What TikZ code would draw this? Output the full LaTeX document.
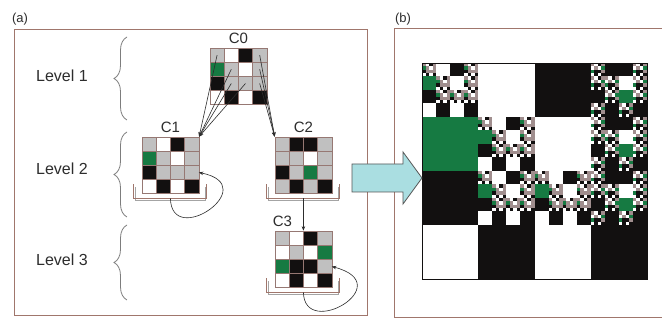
\documentclass[tikz,border=0pt]{standalone}
\usepackage{fontspec}
\setmainfont{Liberation Sans}
\usetikzlibrary{decorations.pathreplacing, arrows.meta, positioning}
\definecolor{framebrown}{RGB}{160,118,108}
\definecolor{cellline}{RGB}{150,120,115}
\definecolor{cellgrey}{RGB}{192,192,192}
\definecolor{cellink}{RGB}{18,16,16}
\definecolor{leaf}{RGB}{22,122,66}
\definecolor{finegrey}{RGB}{160,142,142}
\definecolor{arrowcyan}{RGB}{170,222,225}
\definecolor{bracegrey}{RGB}{125,125,125}
\definecolor{textgrey}{RGB}{45,45,45}

\def\cw{14.2}
\expandafter\def\csname pat0\endcsname{0/1/w/k/2,1/e/1/w/2,2/k/1/1/2,3/w/k/w/k}
\expandafter\def\csname pat1\endcsname{0/1/w/k/1,1/e/1/w/1,2/k/1/1/1,3/w/k/w/k}
\expandafter\def\csname pat2\endcsname{0/3/k/k/3,1/3/3/w/3,2/k/3/e/3,3/3/k/3/k}
\expandafter\def\csname pat3\endcsname{0/3/w/k/3,1/w/3/w/e,2/e/k/k/3,3/w/k/w/k}

\newcommand*{\Grid}[4]{%
  \expandafter\let\expandafter\patlist\csname pat#2\endcsname
  \foreach \row/\cA/\cB/\cC/\cD in \patlist {
    \foreach \col/\ch in {0/\cA,1/\cB,2/\cC,3/\cD} {
      \draw[cellbox, c\ch] (#3+\col*\cw, #4+\row*\cw) rectangle ++(\cw,\cw);
      \coordinate (#1-\row-\col) at (#3+\col*\cw+0.5*\cw, #4+\row*\cw+0.5*\cw);
    }
  }
  \node[gridbox] (#1) at (#3+2*\cw, #4+2*\cw) {};
  \coordinate (#1 in) at (#3+4*\cw, #4+2.5*\cw);
  \coordinate (#1 base) at (#3+2*\cw, #4+4*\cw+4.5);
}
\newcommand*{\Bracket}[1]{%
  \draw[bracketshade] (#1.south west) ++(-6.5,-7) -- ++(0,13) -- ++(69.8,0) -- ++(0,-13);
  \draw[bracket] (#1.south west) ++(-8,-10) -- ++(0,14) -- ++(72.8,0) -- ++(0,-14);
}
\newcommand*{\FracCell}[8]{%
  \pgfmathsetmacro\xx{#1+#7*#3}%
  \pgfmathsetmacro\yy{#2+#6*#4}%
  \ifcat a#8
    \fill[c#8] (\xx,\yy) rectangle ++(#3,#4);
  \else
    \ifnum#5>0
      \pgfmathsetmacro\ww{#3/4}\pgfmathsetmacro\hh{#4/4}\pgfmathtruncatemacro\dd{#5-1}%
      \edef\next{\noexpand\Frac{#8}{\xx}{\yy}{\ww}{\hh}{\dd}}\next
    \else
      \fill[cf] (\xx,\yy) rectangle ++(#3,#4);
    \fi
  \fi
}
\newcommand*{\Frac}[6]{%
  \expandafter\let\expandafter\patlist\csname pat#1\endcsname
  \foreach \row/\cA/\cB/\cC/\cD in \patlist {
    \edef\todo{%
      \noexpand\FracCell{#2}{#3}{#4}{#5}{#6}{\row}{0}{\cA}%
      \noexpand\FracCell{#2}{#3}{#4}{#5}{#6}{\row}{1}{\cB}%
      \noexpand\FracCell{#2}{#3}{#4}{#5}{#6}{\row}{2}{\cC}%
      \noexpand\FracCell{#2}{#3}{#4}{#5}{#6}{\row}{3}{\cD}}%
    \todo
  }
}

\begin{document}
\begin{tikzpicture}[x=1pt, y=-1pt,
    cw/.style={fill=white}, ck/.style={fill=cellink}, ce/.style={fill=leaf},
    c1/.style={fill=cellgrey}, c2/.style={fill=cellgrey}, c3/.style={fill=cellgrey},
    cf/.style={fill=finegrey},
    cellbox/.style={draw=cellline, line width=0.6pt},
    gridbox/.style={draw=cellline, line width=0.6pt, minimum width=56.8pt, minimum height=56.8pt, inner sep=0pt},
    bracket/.style={draw=framebrown, line width=0.9pt},
    bracketshade/.style={draw=bracegrey!70, line width=0.8pt},
    link/.style={draw=textgrey, line width=0.6pt, -{Stealth[length=4.5pt,width=3.5pt]}},
    levelbrace/.style={draw=bracegrey, line width=0.8pt, decorate, decoration={brace, amplitude=13pt}},
    frame/.style={draw=framebrown, line width=1pt},
    level/.style={text=textgrey, font=\fontsize{16}{18}\selectfont, inner sep=0pt},
    gname/.style={text=textgrey, font=\fontsize{15}{17}\selectfont, inner sep=0pt},
    panel/.style={text=textgrey, font=\fontsize{13}{15}\selectfont, inner sep=0pt}]
    \useasboundingbox (0,0) rectangle (662,320);
    \fill[white] (0,0) rectangle (662,320);
    \Frac{0}{422}{63}{56.25}{54}{2}
    \draw[draw=cellink, line width=0.5pt] (422,63) rectangle (647,279);
    \draw[frame] (14,30) rectangle (367,316);
    \draw[frame] (662,29) -- (394,29) -- (394,318) -- (662,318);
    \node[panel] (pa) at (20,19) {(a)};
    \node[panel] (pb) at (403,19) {(b)};
    \node[level] (lv1) at (62,76) {Level 1};
    \node[level] (lv2) at (62,169) {Level 2};
    \node[level] (lv3) at (62,260) {Level 3};
    \draw[levelbrace] (127,120) -- (127,37);
    \draw[levelbrace] (127,217) -- (127,132);
    \draw[levelbrace] (127,300) -- (127,225);
    \Grid{C0}{0}{210}{48}
    \Grid{C1}{1}{142}{137}
    \Grid{C2}{2}{275}{137}
    \Grid{C3}{3}{275}{231}
    \Bracket{C1}
    \Bracket{C2}
    \Bracket{C3}
    \node[gname, above=4pt of C0] (C0 name) {C0};
    \node[gname, above=4pt of C1] (C1 name) {C1};
    \node[gname, above=4pt of C2] (C2 name) {C2};
    \node[gname, above right=4pt and -2pt of C3.north west] (C3 name) {C3};
    \foreach \r/\k in {0/0,1/1,2/1,2/2}
        \draw[link] (C0-\r-\k) -- (C1.north east);
    \foreach \r/\k in {0/3,1/3,2/3}
        \draw[link] (C0-\r-\k) -- (C2.north west);
    \draw[link] (C2 base) -- (C3.north);
    \draw[link] (C1 base) .. controls +(1,51) and +(65,13) .. (C1 in);
    \draw[link] (C3 base) .. controls +(1,48) and +(68,18) .. (C3 in);
    \draw[fill=arrowcyan, draw=textgrey!80, line width=0.8pt] (352,164) -- (403,164) -- (403,152) -- (422,178) -- (403,204) -- (403,192) -- (352,192) -- cycle;
\end{tikzpicture}
\end{document}
